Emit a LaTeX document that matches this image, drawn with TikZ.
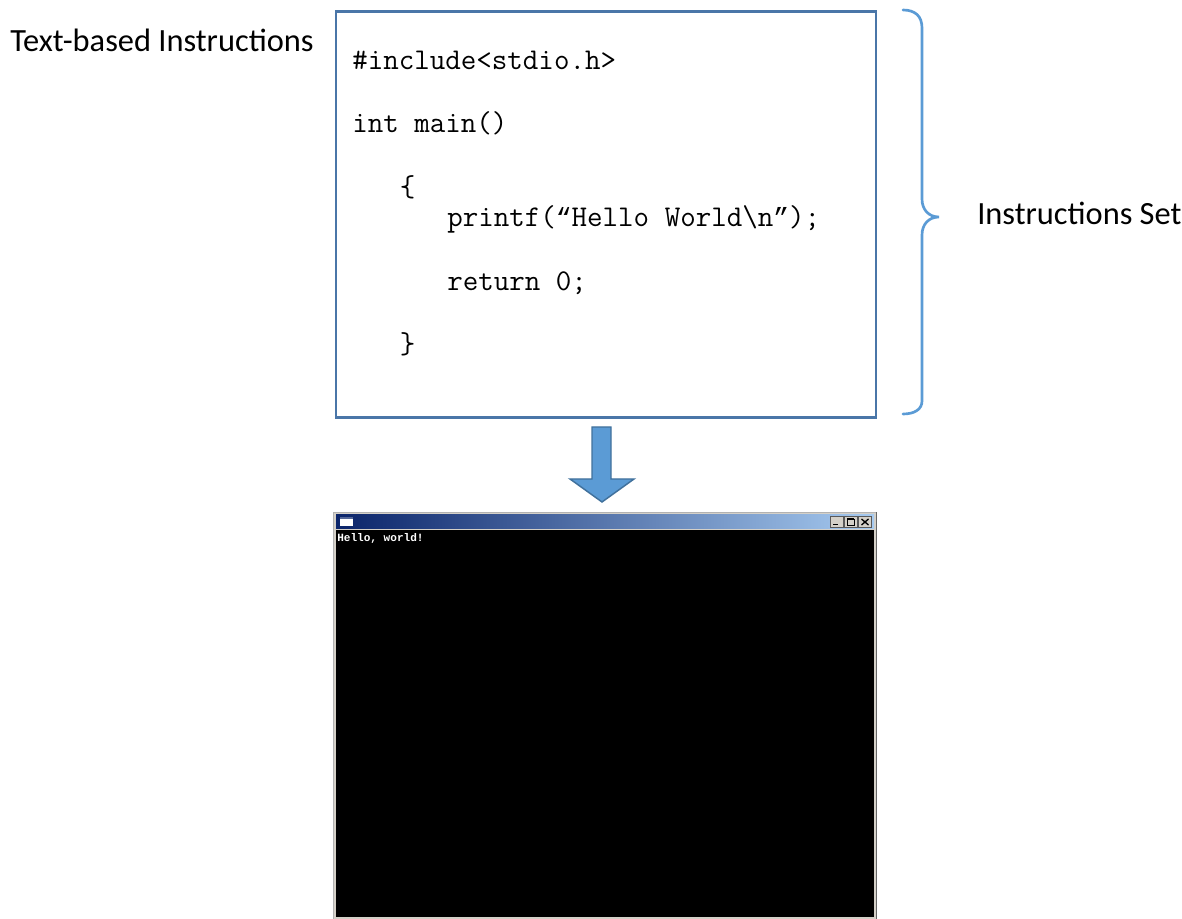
\documentclass[tikz,border=0pt]{standalone}
\usepackage{fontspec}
\setmainfont{Carlito}
\newfontfamily\consolefont{Liberation Mono}
\definecolor{boxline}{HTML}{4A76A8}
\definecolor{accent}{HTML}{5B9BD5}
\definecolor{accentdark}{HTML}{41719C}
\definecolor{wingray}{HTML}{D4D0C8}
\definecolor{titledark}{HTML}{0A246A}
\definecolor{titlelight}{HTML}{A6CAF0}
% slanted double quotes, set in a mono face of the same advance width
\newcommand{\openquote}{{\consolefont\fontsize{19.7}{26}\selectfont “}}
\newcommand{\closequote}{{\consolefont\fontsize{19.7}{26}\selectfont ”}}
\tikzset{
  caption/.style={font=\fontsize{24.3}{28}\selectfont, inner sep=0pt, anchor=base west},
  codeline/.style={font=\ttfamily\fontsize{22.6}{26}\selectfont, inner sep=0pt, anchor=base west},
  consoletext/.style={font=\consolefont\bfseries\fontsize{8.3}{10}\selectfont, text=white, inner sep=0pt, anchor=base west},
  winbutton/.style={fill=wingray, draw=gray!70!black, line width=0.4pt},
}
\begin{document}
\begin{tikzpicture}[x=0.75pt,y=-0.75pt]
\useasboundingbox (0,0) rectangle (1182,919);

% labels
\node[caption] (lefttext) at (10,52) {Text-based Instructions};
\node[caption] (righttext) at (977,225) {Instructions Set};

% source code box
\node[draw=boxline, line width=1.7pt, anchor=north west, minimum width=405pt, minimum height=304.5pt, inner sep=0pt] (codebox) at (334.5,10.5) {};
\node[codeline] (l1) at (352,70) {\#include<stdio.h>};
\node[codeline] (l2) at (352,133) {int main()};
\node[codeline] (l3) at (399.5,197) {\{};
\node[codeline] (l4) at (447,227) {printf(\openquote Hello World\textbackslash n\closequote);};
\node[codeline] (l5) at (447,291) {return 0;};
\node[codeline] (l6) at (399.5,354) {\}};

% curly brace
\draw[accent, line width=2pt, line cap=round]
  (903,10) .. controls (915,10) and (922,16) .. (922,28)
  -- (922,199) .. controls (922,210) and (929,217) .. (939,217)
  .. controls (929,217) and (922,224) .. (922,235)
  -- (922,401) .. controls (922,409) and (915,414) .. (903,414);

% block arrow
\draw[fill=accent, draw=accentdark, line width=1.1pt, line join=miter]
  (592,427) -- (611,427) -- (611,479) -- (634,479) -- (602,502)
  -- (570,479) -- (592,479) -- cycle;

% console window
\coordinate (console) at (333,512);
\fill[wingray] (333,512) rectangle (877,919);
\draw[gray!60, line width=0.6pt] (333.5,512.5) -- (333.5,919) (333.5,512.5) -- (876.5,512.5);
\draw[gray!80!black, line width=0.6pt] (876.5,512.5) -- (876.5,919);
\shade[left color=titledark, right color=titlelight] (336,515) rectangle (874,529);
\fill[white] (340,517) rectangle (353,526);
\fill[titledark!70!white] (340,517) rectangle (353,519);
\fill[black] (336,530) rectangle (874,917);
\node[consoletext] (hello) at (337,542) {Hello, world!};

% title bar buttons
\draw[winbutton] (830,516.5) rectangle (843,527);
\draw[winbutton] (844,516.5) rectangle (857,527);
\draw[winbutton] (858.5,516.5) rectangle (871.5,527);
\draw[black, line width=1.2pt] (833,524.5) -- (838,524.5);
\draw[black, line width=0.5pt] (847,519) rectangle (854,525);
\draw[black, line width=1.2pt] (847,519.3) -- (854,519.3);
\draw[black, line width=1pt] (861.5,519) -- (868.5,525) (861.5,525) -- (868.5,519);
\end{tikzpicture}
\end{document}
